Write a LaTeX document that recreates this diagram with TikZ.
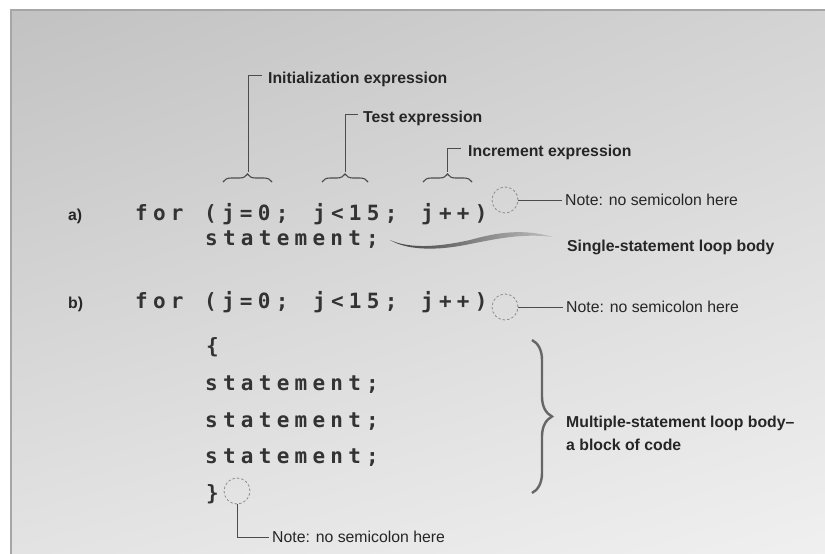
\documentclass[tikz,border=0pt]{standalone}
\usepackage{fontspec}
\setsansfont{Liberation Sans}
\newfontfamily\codefont[LetterSpace=25]{DejaVu Sans Mono}
\usetikzlibrary{decorations.pathreplacing,shadings,positioning}

\tikzset{
  lbl/.style={font=\sffamily\bfseries\fontsize{15.8}{23}\selectfont, anchor=west, inner sep=0pt, text=black!85},
  note/.style={font=\sffamily\fontsize{15.8}{18}\selectfont, anchor=west, inner sep=0pt, text=black!85},
  tag/.style={font=\sffamily\bfseries\fontsize{15.8}{18}\selectfont, anchor=base west, inner sep=0pt, text=black!85},
  code/.style={font=\codefont\bfseries\fontsize{21}{24}\selectfont, anchor=base west, inner sep=0pt, text=black!80},
  hole/.style={circle, draw=black!45, dash pattern=on 2.5pt off 2pt, line width=0.8pt, minimum size=26pt, inner sep=0pt},
  leader/.style={draw=black!70, line width=0.9pt},
  smallbrace/.style={decorate, decoration={brace, amplitude=8pt}, line width=1.1pt, draw=black!70},
  bigbrace/.style={decorate, decoration={brace, amplitude=20pt}, line width=2.4pt, draw=black!60}
}

\begin{document}
\begin{tikzpicture}[x=1pt, y=-1pt]

\useasboundingbox (0,0) rectangle (825,554);

% Background panel

\fill[white] (0,0) rectangle (825,554);
\shade[upper left=black!24, upper right=black!17, lower left=black!11, lower right=black!6] (11,10) rectangle (825,554);
\draw[black!35, line width=1.5pt] (11,554) -- (11,10) -- (825,10);

% Part a): single statement

\node[tag] (taga) at (68,220) {a)};
\node[code] (fora) at (135,220) {for};
\node[code] (inita) at (204,220) {(j=0;};
\node[code] (testa) at (313,220) {j<15;};
\node[code] (incra) at (421,220) {j++)};
\node[code] (stmta) at (205,245) {statement;};

\coordinate (initl) at (223,182);
\coordinate (initr) at (272,182);
\coordinate (initt) at (248,172);
\coordinate (testl) at (322,182);
\coordinate (testr) at (368,182);
\coordinate (testt) at (345,172);
\coordinate (incrl) at (423,182);
\coordinate (incrr) at (472,182);
\coordinate (incrt) at (447.5,172);

\draw[smallbrace] (initl) -- (initr);
\draw[smallbrace] (testl) -- (testr);
\draw[smallbrace] (incrl) -- (incrr);

\node[lbl] (initlbl) at (268,79) {Initialization expression};
\node[lbl] (testlbl) at (363,118) {Test expression};
\node[lbl] (incrlbl) at (468,152) {Increment expression};

\draw[leader] (initt) |- ([xshift=-6pt, yshift=4pt]initlbl.west);
\draw[leader] (testt) |- ([xshift=-5pt, yshift=4pt]testlbl.west);
\draw[leader] (incrt) |- ([xshift=-7pt, yshift=4pt]incrlbl.west);

\node[hole] (holea) at (505,200) {};
\node[note] (notea) at (565,200) {Note: no semicolon here};
\draw[leader, shorten >=3pt] (holea) -- (notea);

% swoosh to the loop body label
\shade[left color=black!75, right color=black!25]
  (390,240) .. controls (405,247) and (430,249) .. (470,240)
  .. controls (495,233) and (522,228) .. (553,237)
  .. controls (522,233) and (496,239) .. (470,244)
  .. controls (432,252) and (405,249) .. (390,240) -- cycle;
\node[lbl] (singlelbl) at (567,247) {Single-statement loop body};

% Part b): block of statements

\node[tag] (tagb) at (68,308) {b)};
\node[code] (forb) at (135,308) {for};
\node[code] (initb) at (204,308) {(j=0;};
\node[code] (testb) at (313,308) {j<15;};
\node[code] (incrb) at (421,308) {j++)};
\node[hole] (holeb) at (505,307) {};
\node[note] (noteb) at (566,307) {Note: no semicolon here};
\draw[leader, shorten >=3pt] (holeb) -- (noteb);

\node[code] (openb) at (206,353) {\{};
\node[code] (stmtb1) at (205,390) {statement;};
\node[code] (stmtb2) at (205,427) {statement;};
\node[code] (stmtb3) at (205,463) {statement;};
\node[code] (closeb) at (206,500) {\}};

\node[hole] (holec) at (237,491) {};
\node[note] (notec) at (272,537) {Note: no semicolon here};
\draw[leader, shorten >=3pt] (holec) |- (notec);

\coordinate (blocktop) at (532,340);
\coordinate (blockbot) at (532,493);
\draw[bigbrace] (blocktop) -- (blockbot);
\node[lbl, align=left] (multilbl) at (566,433) {Multiple-statement loop body–\\a block of code};

\end{tikzpicture}
\end{document}
